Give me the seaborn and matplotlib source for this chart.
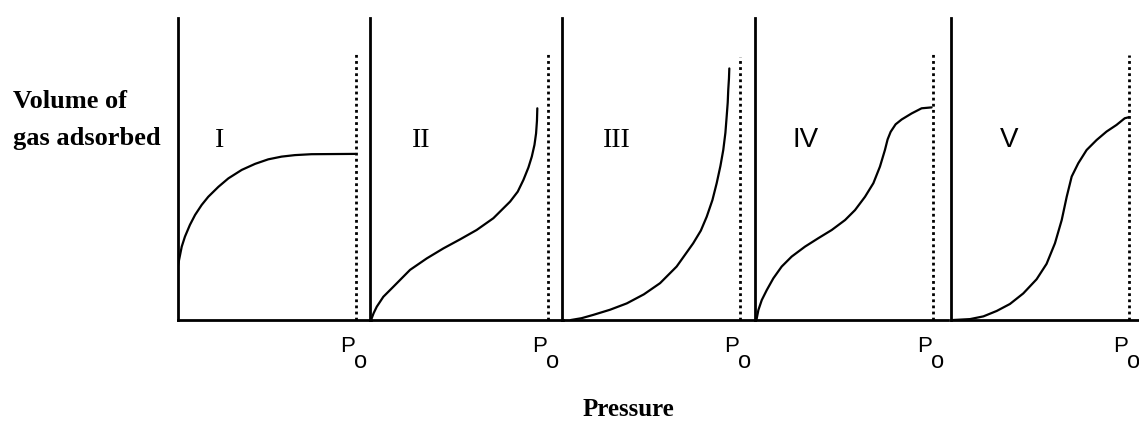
import numpy as np
import pandas as pd
import matplotlib
matplotlib.use("Agg")
import matplotlib.pyplot as plt
import seaborn as sns

# ---- data (relative pressure P/P0, relative volume adsorbed) ----
panels = ["I", "II", "III", "IV", "V"]

x_I = [0.000, 0.006, 0.021, 0.039, 0.067, 0.096, 0.133, 0.170, 0.227, 0.283, 0.358,
       0.433, 0.507, 0.582, 0.657, 0.750, 0.994]
y_I = [0.180, 0.199, 0.243, 0.276, 0.315, 0.348, 0.381, 0.408, 0.441, 0.469, 0.497,
       0.517, 0.532, 0.541, 0.546, 0.549, 0.550]

x_II = [0.006, 0.020, 0.038, 0.075, 0.131, 0.225, 0.319, 0.412, 0.506, 0.599, 0.693,
        0.787, 0.830, 0.862, 0.890, 0.909, 0.924, 0.933, 0.938, 0.940]
y_II = [0.000, 0.022, 0.044, 0.077, 0.110, 0.166, 0.204, 0.237, 0.267, 0.298, 0.337,
        0.392, 0.425, 0.464, 0.505, 0.541, 0.580, 0.618, 0.660, 0.701]

x_III = [0.050, 0.110, 0.176, 0.270, 0.364, 0.460, 0.551, 0.644, 0.737, 0.780, 0.813,
         0.845, 0.869, 0.890, 0.906, 0.918, 0.925, 0.931, 0.934, 0.938, 0.940]
y_III = [0.000, 0.006, 0.017, 0.034, 0.055, 0.085, 0.122, 0.177, 0.254, 0.296, 0.342,
         0.397, 0.453, 0.510, 0.563, 0.620, 0.673, 0.720, 0.762, 0.800, 0.833]

x_IV = [0.008, 0.019, 0.038, 0.066, 0.103, 0.150, 0.206, 0.281, 0.356, 0.431, 0.506,
        0.562, 0.618, 0.665, 0.702, 0.730, 0.745, 0.762, 0.790, 0.824, 0.880, 0.936, 0.992]
y_IV = [0.000, 0.033, 0.066, 0.099, 0.138, 0.177, 0.210, 0.243, 0.271, 0.298, 0.331,
        0.364, 0.408, 0.453, 0.508, 0.563, 0.598, 0.623, 0.648, 0.664, 0.684, 0.701, 0.704]

x_V = [0.013, 0.107, 0.182, 0.257, 0.331, 0.406, 0.481, 0.537, 0.584, 0.622, 0.650,
       0.678, 0.715, 0.762, 0.818, 0.874, 0.930, 0.976, 0.996]
y_V = [0.000, 0.003, 0.012, 0.030, 0.053, 0.088, 0.135, 0.186, 0.254, 0.331, 0.408,
       0.475, 0.519, 0.563, 0.596, 0.624, 0.646, 0.668, 0.671]

p0_top = [0.887, 0.884, 0.871, 0.887, 0.877]   # height of the dotted P0 line

curves = {"I": (x_I, y_I), "II": (x_II, y_II), "III": (x_III, y_III),
          "IV": (x_IV, y_IV), "V": (x_V, y_V)}

P0 = 1.0

sns.set_theme(style="white")

W, H = 1139, 422
fig = plt.figure(figsize=(W / 100, H / 100), dpi=100)
fig.patch.set_facecolor("white")

axis_px = [178, 370, 562, 755, 951]
panel_w = 193
base_px, top_px = 320, 18
p0_px = 178

serif = "Liberation Serif"
sans = "Liberation Sans"
num_font = [serif, serif, serif, sans, sans]
num_cx = [220, 421, 617, 806, 1009]

for i, name in enumerate(panels):
    ax = fig.add_axes([axis_px[i] / W, (H - base_px) / H,
                       panel_w / W, (base_px - top_px) / H])
    ax.set_facecolor("none")
    xs, ys = curves[name]
    df = pd.DataFrame({"P": xs, "V": ys})
    sns.lineplot(data=df, x="P", y="V", ax=ax, color="black", lw=1.6,
                 sort=False, estimator=None, solid_joinstyle="round",
                 solid_capstyle="round")
    ax.vlines(P0, 0, p0_top[i], colors="black", linestyles=(0, (1.0, 1.2)), lw=2.0)
    ax.set_xlim(0, panel_w / p0_px)
    ax.set_ylim(0, 1)
    for s in ["top", "right"]:
        ax.spines[s].set_visible(False)
    for s in ["left", "bottom"]:
        ax.spines[s].set_color("black")
        ax.spines[s].set_linewidth(2.0)
    ax.set_xticks([])
    ax.set_yticks([])
    ax.set_xlabel("")
    ax.set_ylabel("")
    # P0 label
    ax.annotate("P", xy=(P0, 0), xycoords="data", xytext=(-1, -32),
                textcoords="offset pixels", ha="right", va="baseline",
                fontsize=16, family=sans, color="black")
    ax.annotate("o", xy=(P0, 0), xycoords="data", xytext=(-2, -48),
                textcoords="offset pixels", ha="left", va="baseline",
                fontsize=17, family=sans, color="black")
    # roman numeral
    fig.text(num_cx[i] / W, 1 - 147 / H, name, ha="center", va="baseline",
             fontsize=20, family=num_font[i], color="black")

fig.text(13 / W, 1 - 108 / H, "Volume of", ha="left", va="baseline",
         fontsize=19, family=serif, fontweight="bold", color="black")
fig.text(13 / W, 1 - 145 / H, "gas adsorbed", ha="left", va="baseline",
         fontsize=19, family=serif, fontweight="bold", color="black")
fig.text(628 / W, 1 - 416 / H, "Pressure", ha="center", va="baseline",
         fontsize=18, family=serif, fontweight="bold", color="black")

fig.savefig("out.png", dpi=100, facecolor="white")
